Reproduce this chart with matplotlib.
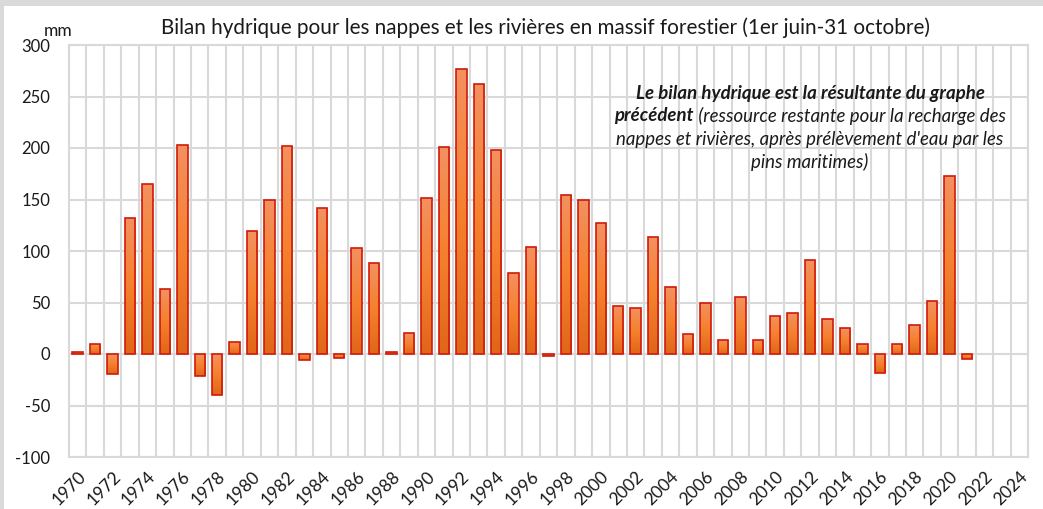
import matplotlib
matplotlib.use('Agg')
import matplotlib.pyplot as plt
from matplotlib.colors import LinearSegmentedColormap
from matplotlib.patches import Rectangle
import numpy as np

# Data: annual water balance (mm), 1970-2024
years = list(range(1970, 2025))
values = [2, 10, -19, 132, 165, 63, 203, -21, -40, 12,
          119, 150, 202, -6, 142, -4, 103, 88, 2, 20,
          151, 201, 277, 262, 198, 79, 104, -2, 154, 150,
          127, 47, 45, 114, 65, 19, 50, 14, 55, 14,
          37, 40, 91, 34, 25, 10, -18, 10, 28, 51,
          173, -5]
tick_years = list(range(1970, 2025, 2))
y_ticks = list(range(-100, 301, 50))

TITLE = "Bilan hydrique pour les nappes et les rivières en massif forestier (1er juin-31 octobre)"
NOTE_BOLD_1 = "Le bilan hydrique est la résultante du graphe"
NOTE_BOLD_2 = "précédent"
NOTE_ITAL_2 = " (ressource restante pour la recharge des"
NOTE_ITAL_3 = "nappes et rivières, après prélèvement d'eau par les"
NOTE_ITAL_4 = "pins maritimes)"

FONT = ['Lato', 'DejaVu Sans']
GRID_COLOR = '#d9d9d9'
EDGE_COLOR = '#d01a0a'
plt.rcParams['font.family'] = FONT

W, H = 1043, 509
fig = plt.figure(figsize=(W / 100, H / 100), dpi=100)
fig.patch.set_facecolor('white')

# grey frame strips (top and left)
fig.patches.append(Rectangle((0, 1 - 6 / H), 1, 6 / H, transform=fig.transFigure,
                             facecolor='#dadada', edgecolor='none', zorder=0))
fig.patches.append(Rectangle((0, 0), 4 / W, 1, transform=fig.transFigure,
                             facecolor='#dadada', edgecolor='none', zorder=0))

left, right, top, bottom = 69, 1028, 45, 457
ax = fig.add_axes([left / W, 1 - bottom / H, (right - left) / W, (bottom - top) / H])

n = len(years)
x = np.arange(n)
bars = ax.bar(x[:len(values)], values, width=0.6, facecolor='none',
              edgecolor=EDGE_COLOR, linewidth=1.2, zorder=3)

cmap = LinearSegmentedColormap.from_list('org', ['#e0661a', '#f5812e', '#f29160'])
grad = np.linspace(0, 1, 64).reshape(-1, 1)
for b in bars:
    bx, by = b.get_x(), b.get_y()
    bw, bh = b.get_width(), b.get_height()
    y0, y1 = min(by, by + bh), max(by, by + bh)
    im = ax.imshow(grad, extent=[bx, bx + bw, y0, y1], origin='lower',
                   aspect='auto', cmap=cmap, zorder=2)
    im.set_clip_path(b)

ax.set_xlim(-0.5, n - 0.5)
ax.set_ylim(-100, 300)

# grid
ax.set_yticks(y_ticks)
ax.set_yticklabels([str(v) for v in y_ticks], fontsize=12, color='#1a1a1a')
ax.set_xticks(x[::2])
ax.set_xticklabels([str(y) for y in tick_years], rotation=45, ha='right',
                   rotation_mode='anchor', fontsize=12.5, color='#1a1a1a')
ax.tick_params(axis='y', length=0, pad=13.5)
ax.tick_params(axis='x', length=0, pad=8)
ax.set_xticks(np.arange(-0.5, n, 1), minor=True)
ax.grid(axis='y', which='major', color=GRID_COLOR, linewidth=1.5, zorder=0)
ax.grid(axis='x', which='minor', color=GRID_COLOR, linewidth=1.5, zorder=0)
ax.tick_params(axis='x', which='minor', length=0)
for s in ax.spines.values():
    s.set_color(GRID_COLOR)
    s.set_linewidth(1.5)
ax.set_axisbelow(True)

fig.text(545 / W, 1 - 28 / H, TITLE, ha='center', va='center', fontsize=14.9, color='#1a1a1a')
fig.text(58 / W, 1 - 31 / H, 'mm', ha='center', va='center', fontsize=12.5, color='#1a1a1a')

# annotation
cx = 810 / W
kw = dict(fontsize=13.4, color='#1a1a1a', style='italic', va='center')
fig.text(cx, 1 - 93 / H, NOTE_BOLD_1, ha='center', weight='bold', **kw)
fig.text(cx, 1 - 139 / H, NOTE_ITAL_3, ha='center', **kw)
fig.text(cx, 1 - 162 / H, NOTE_ITAL_4, ha='center', **kw)
tb = fig.text(0, 1 - 116 / H, NOTE_BOLD_2, ha='left', weight='bold', **kw)
ti = fig.text(0, 1 - 116 / H, NOTE_ITAL_2, ha='left', **kw)
fig.canvas.draw()
r = fig.canvas.get_renderer()
wb = tb.get_window_extent(r).width / W
wi = ti.get_window_extent(r).width / W
start = cx - (wb + wi) / 2
tb.set_x(start)
ti.set_x(start + wb)

fig.savefig('out.png', dpi=100)
